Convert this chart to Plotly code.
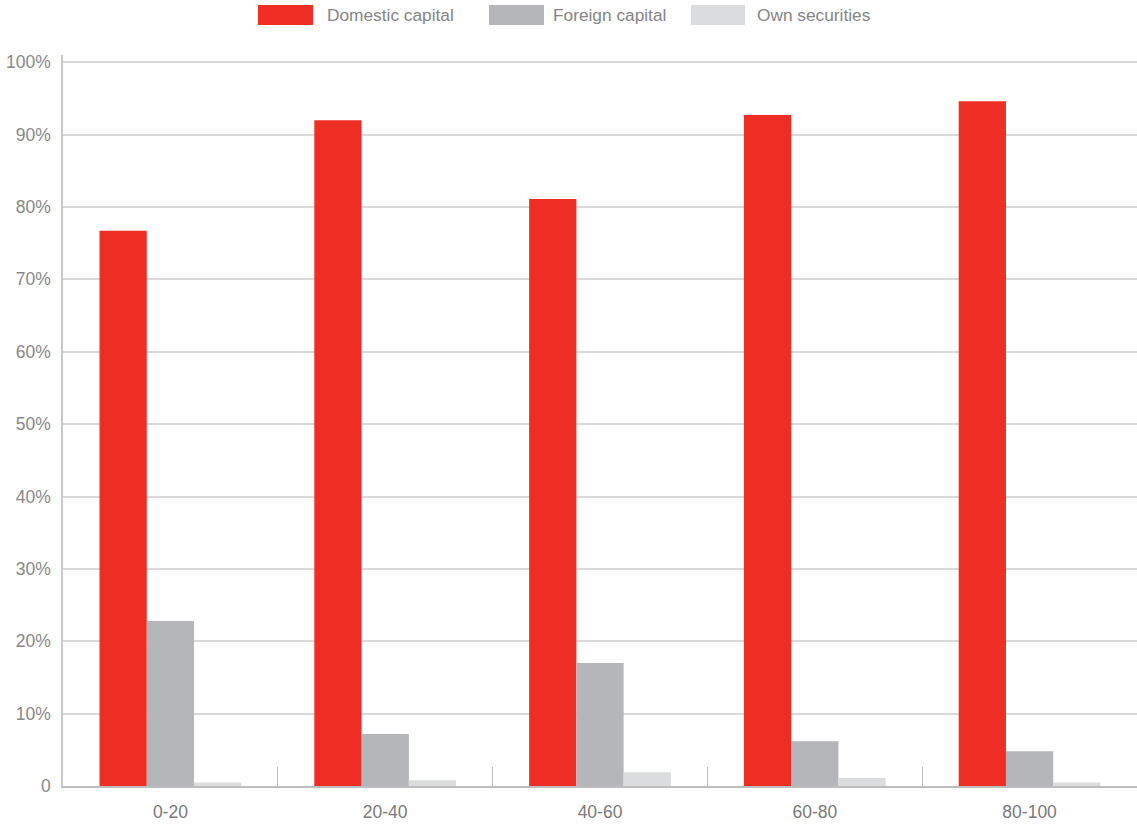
import plotly.graph_objects as go

# Share of funding by source, per size group
groups = ["0-20", "20-40", "40-60", "60-80", "80-100"]
domestic = [76.7, 92.0, 81.1, 92.7, 94.6]
foreign = [22.8, 7.2, 17.0, 6.2, 4.8]
own = [0.5, 0.8, 1.9, 1.1, 0.5]

series_names = ["Domestic capital", "Foreign capital", "Own securities"]
series_colors = ["#EE2E24", "#B5B6B9", "#DBDCDD"]

y_ticks = [0, 10, 20, 30, 40, 50, 60, 70, 80, 90, 100]
y_labels = ["0"] + [f"{v}%" for v in y_ticks[1:]]

W, H = 1137, 827
ML, MR, MT, MB = 63, 0, 55, 41

fig = go.Figure()
for name, vals, col in zip(series_names, [domestic, foreign, own], series_colors):
    fig.add_trace(go.Bar(x=groups, y=vals, name=name, marker=dict(color=col, line=dict(width=0)),
                         showlegend=False))


def px_x(p):
    return (p - ML) / (W - ML - MR)


def px_y(p):
    return (H - MB - p) / (H - MT - MB)


# Legend row drawn with wide swatches
legend_items = [(258, 313, 325), (489, 544, 551), (691, 745, 755)]
shapes = []
annotations = []
for (x0, x1, tx), name, col in zip(legend_items, series_names, series_colors):
    shapes.append(dict(type="rect", xref="paper", yref="paper",
                       x0=px_x(x0), x1=px_x(x1), y0=px_y(25), y1=px_y(5),
                       fillcolor=col, line=dict(width=0)))
    annotations.append(dict(xref="paper", yref="paper", x=px_x(tx), y=px_y(15),
                            xanchor="left", yanchor="middle", showarrow=False,
                            text=name, font=dict(size=17.3, color="#858585",
                                                 family="Liberation Sans, Arial, sans-serif")))

fig.update_layout(
    width=W, height=H,
    margin=dict(l=ML, r=MR, t=MT, b=MB, pad=0),
    paper_bgcolor="white", plot_bgcolor="white",
    barmode="group", bargap=0.34, bargroupgap=0,
    font=dict(family="Liberation Sans, Arial, sans-serif", color="#808080"),
    shapes=shapes, annotations=annotations,
    xaxis=dict(
        type="category", showgrid=False, zeroline=False,
        showline=True, linecolor="#BDBDBD", linewidth=1.5,
        ticks="inside", tickson="boundaries", ticklen=19, tickwidth=1.2, tickcolor="#BDBDBD",
        tickfont=dict(size=17.5, color="#7a7a7a"), ticklabelstandoff=9,
    ),
    yaxis=dict(
        range=[0, 101], tickvals=y_ticks, ticktext=y_labels,
        showgrid=True, gridcolor="#D9D9D9", gridwidth=1.5, zeroline=False,
        showline=True, linecolor="#C8C8C8", linewidth=1.5, ticks="",
        tickfont=dict(size=17.5, color="#888888"), ticklabelstandoff=7,
    ),
)

fig.write_html("out.html")
